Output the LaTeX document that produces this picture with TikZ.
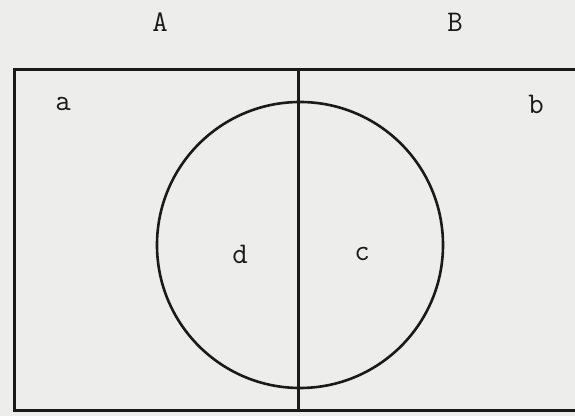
\documentclass[tikz,border=0pt]{standalone}
\usetikzlibrary{positioning}
\definecolor{paper}{HTML}{EDEDEB}
\definecolor{ink}{HTML}{1A1A1A}

\begin{document}
\begin{tikzpicture}[
    x=0.5pt, y=-0.5pt,
    lbl/.style={font=\ttfamily\fontsize{15}{17}\selectfont, text=ink, inner sep=0pt},
    border/.style={draw=ink, line width=1.5pt},
    ring/.style={draw=ink, line width=1.3pt}
]
    \fill[paper] (0,0) rectangle (575,416);
    \useasboundingbox (0,0) rectangle (575,416);

    \coordinate (tl) at (15,70);
    \coordinate (bl) at (15,411);
    \coordinate (tr) at (576,70);
    \coordinate (br) at (576,411);
    \coordinate (mt) at (299,70);
    \coordinate (mb) at (299,411);
    \coordinate (centre) at (300,245);

    \draw[border] (tr) -- (tl) -- (bl) -- (br);
    \draw[border] (mt) -- (mb);
    \draw[ring] (centre) circle[radius=143];

    \node[lbl] (setA) at (160,22) {A};
    \node[lbl] (setB) at (455,22) {B};
    \node[lbl] (cella) at (63,104) {a};
    \node[lbl] (cellb) at (536,104) {b};
    \node[lbl] (celld) at (240,254) {d};
    \node[lbl] (cellc) at (362,254) {c};
\end{tikzpicture}
\end{document}
